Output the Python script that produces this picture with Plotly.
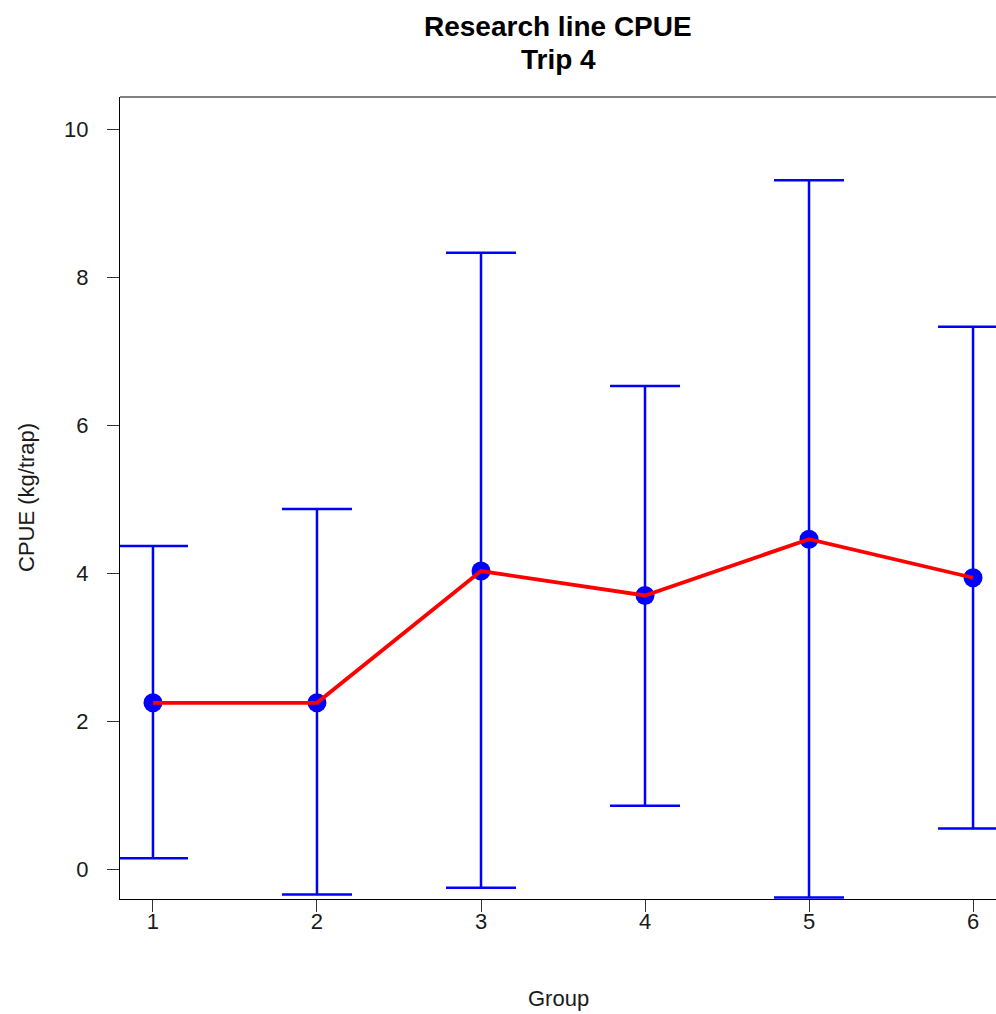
import plotly.graph_objects as go

groups = [1, 2, 3, 4, 5, 6]
means = [2.25, 2.25, 4.03, 3.70, 4.46, 3.94]
upper = [4.37, 4.87, 8.33, 6.53, 9.31, 7.33]
lower = [0.15, -0.34, -0.25, 0.86, -0.38, 0.55]

err_plus = [u - m for u, m in zip(upper, means)]
err_minus = [m - l for m, l in zip(means, lower)]

FONT = "Liberation Sans, Arial, sans-serif"
TXT = "#1a1a1a"

fig = go.Figure()
fig.add_trace(go.Scatter(
    x=groups, y=means, mode="markers",
    marker=dict(color="#0000FF", size=19),
    error_y=dict(type="data", symmetric=False, array=err_plus, arrayminus=err_minus,
                 color="#0000FF", thickness=2.5, width=35),
    showlegend=False, cliponaxis=True,
))
fig.add_trace(go.Scatter(
    x=groups, y=means, mode="lines",
    line=dict(color="#FF0000", width=3.8),
    showlegend=False,
))

fig.update_layout(
    width=996, height=1014,
    margin=dict(l=120, r=0, t=97, b=115),
    paper_bgcolor="white", plot_bgcolor="white",
    font=dict(family=FONT, size=22, color=TXT),
    xaxis=dict(range=[0.799, 6.14], tickvals=groups, ticktext=[str(g) for g in groups],
               showgrid=False, zeroline=False, showline=True, linecolor="black", linewidth=1,
               ticks="outside", ticklen=12, tickcolor="#333333", tickfont=dict(size=22),
               ticklabelstandoff=-9),
    yaxis=dict(range=[-0.401, 10.436], tickvals=[0, 2, 4, 6, 8, 10],
               showgrid=False, zeroline=False, showline=True, linecolor="black", linewidth=1,
               ticks="outside", ticklen=12, tickcolor="#333333", tickfont=dict(size=22),
               ticklabelstandoff=14),
    shapes=[dict(type="line", xref="paper", yref="paper", x0=0, x1=1, y0=1, y1=1,
                 line=dict(color="black", width=1))],
    annotations=[
        dict(text="<b>Research line CPUE</b>", xref="paper", yref="paper", x=0.5, y=1,
             yanchor="middle", yshift=71, showarrow=False, font=dict(size=28, family=FONT, color="#000000")),
        dict(text="<b>Trip 4</b>", xref="paper", yref="paper", x=0.5, y=1,
             yanchor="middle", yshift=38, showarrow=False, font=dict(size=28, family=FONT, color="#000000")),
        dict(text="Group", xref="paper", yref="paper", x=0.5, y=0,
             yanchor="middle", yshift=-99, showarrow=False, font=dict(size=22, family=FONT)),
        dict(text="CPUE (kg/trap)", xref="paper", yref="paper", x=0, y=0.5,
             xanchor="center", yanchor="middle", xshift=-94, textangle=-90,
             showarrow=False, font=dict(size=22, family=FONT)),
    ],
)

fig.write_html("out.html")
